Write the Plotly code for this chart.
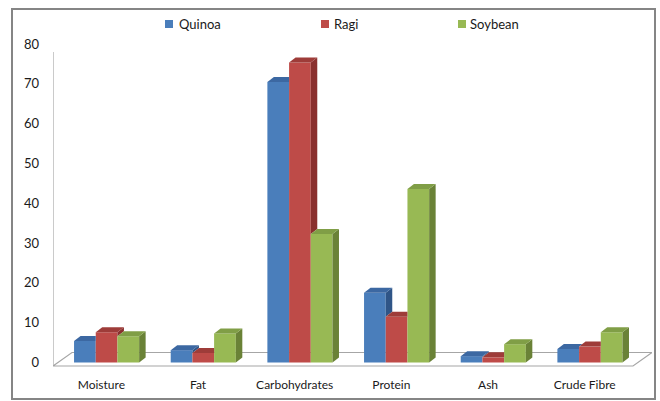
import plotly.graph_objects as go

# ---- data -------------------------------------------------------------
categories = ["Moisture", "Fat", "Carbohydrates", "Protein", "Ash", "Crude Fibre"]
series_names = ["Quinoa", "Ragi", "Soybean"]
quinoa = [5.4, 3.1, 70.5, 17.5, 1.6, 3.4]
ragi = [7.6, 2.4, 75.4, 11.5, 1.3, 4.0]
soybean = [6.6, 7.3, 32.3, 43.6, 4.6, 7.6]
y_ticks = [0, 10, 20, 30, 40, 50, 60, 70, 80]

series_values = [quinoa, ragi, soybean]

# ---- styling / geometry -----------------------------------------------
W, H = 660, 401
PLOT_L, PLOT_R, PLOT_T, PLOT_B = 53, 652, 40, 372
BASE_PX = 362.5          # pixel row of the value 0 on the bar front plane
PX_PER_UNIT = 3.98       # vertical pixels per value unit
PX_PER_CAT = 96.67       # horizontal pixels per category
X_MIN = -0.5
X_MAX = X_MIN + (PLOT_R - PLOT_L) / PX_PER_CAT
Y_MIN = -(PLOT_B - BASE_PX) / PX_PER_UNIT
Y_MAX = (BASE_PX - PLOT_T) / PX_PER_UNIT

BAR_W = 21.7 / PX_PER_CAT
GROUP_LEFT = -27.3 / PX_PER_CAT
DX = 6.5 / PX_PER_CAT     # depth offset of bar sides (x units)
DY = 5.0 / PX_PER_UNIT    # depth offset of bar tops (value units)

FRONT = ["#4a7ebb", "#be4b48", "#98b954"]
TOP = ["#3c68a2", "#9e3c39", "#809e46"]
SIDE = ["#2f5587", "#8a302e", "#6a8237"]
EDGE = "#a6a6a6"
TEXT = "#1a1a1a"
FONT = "Lato"


def yv(py):
    """pixel row -> value on the y axis"""
    return (BASE_PX - py) / PX_PER_UNIT


def px_x(px):
    return (px - PLOT_L) / (PLOT_R - PLOT_L)


def px_y(py):
    return (PLOT_B - py) / (PLOT_B - PLOT_T)


fig = go.Figure()

# front faces of the columns
for k, (name, vals) in enumerate(zip(series_names, series_values)):
    fig.add_trace(go.Bar(
        x=list(range(len(categories))), y=vals, name=name,
        width=BAR_W, offset=GROUP_LEFT + k * BAR_W,
        marker=dict(color=FRONT[k], line=dict(width=0)),
        showlegend=False,
    ))


def poly(xs, ys, color):
    fig.add_trace(go.Scatter(
        x=xs + [xs[0]], y=ys + [ys[0]], mode="lines", fill="toself",
        fillcolor=color, line=dict(width=0, color=color),
        hoverinfo="skip", showlegend=False,
    ))


# visible parts of the top and right faces of each column
for i in range(len(categories)):
    for k in range(3):
        h = series_values[k][i]
        xl = i + GROUP_LEFT + k * BAR_W
        xr = xl + BAR_W
        h_next = series_values[k + 1][i] if k < 2 else 0.0
        # right side, hidden below the neighbouring column
        lo = min(h_next, h)
        if h > lo:
            poly([xr, xr + DX, xr + DX, xr], [lo, lo + DY, h + DY, h], SIDE[k])
        # top face, partly hidden when the neighbour is taller
        if k < 2:
            c = min(max(h_next, h), h + DY)
        else:
            c = h
        xc = xr + DX * (h + DY - c) / DY
        poly([xl, xr, xr, xc, xl + DX], [h, h, c, h + DY, h + DY], TOP[k])

# floor of the 3-D plot area and the value-axis line
floor_front = yv(366)
floor_back = yv(352.5)
floor_shift = 19 / PX_PER_CAT
x_last = X_MIN + 580 / PX_PER_CAT
shapes = [
    dict(type="path", xref="x", yref="y", layer="below",
         path=(f"M {X_MIN},{floor_front} L {x_last},{floor_front} "
               f"L {x_last + floor_shift},{floor_back} "
               f"L {X_MIN + floor_shift},{floor_back} Z"),
         fillcolor="white", line=dict(color=EDGE, width=1.2)),
    dict(type="line", xref="x", yref="y", layer="below",
         x0=X_MIN, x1=X_MIN, y0=floor_front, y1=yv(52),
         line=dict(color=EDGE, width=1.2)),
    # chart frame
    dict(type="rect", xref="paper", yref="paper",
         x0=px_x(12), x1=px_x(655), y0=px_y(399), y1=px_y(9),
         line=dict(color="#858585", width=2), fillcolor="rgba(0,0,0,0)"),
]

# legend across the top
legend_sq = [165, 321, 458]
legend_tx = [177, 332, 468]
annotations = []
for k, name in enumerate(series_names):
    shapes.append(dict(type="rect", xref="paper", yref="paper",
                       x0=px_x(legend_sq[k]), x1=px_x(legend_sq[k] + 8),
                       y0=px_y(28), y1=px_y(20),
                       fillcolor=FRONT[k], line=dict(width=0)))
    annotations.append(dict(x=px_x(legend_tx[k]), y=px_y(24), xref="paper", yref="paper",
                            text=name, showarrow=False, xanchor="left", yanchor="middle",
                            font=dict(family=FONT, size=13, color=TEXT)))

fig.update_layout(
    width=W, height=H,
    margin=dict(l=PLOT_L, r=W - PLOT_R, t=PLOT_T, b=H - PLOT_B),
    paper_bgcolor="white", plot_bgcolor="white",
    barmode="overlay",
    showlegend=False,
    shapes=shapes, annotations=annotations,
    xaxis=dict(range=[X_MIN, X_MAX], tickvals=list(range(len(categories))),
               ticktext=categories, showgrid=False, zeroline=False, showline=False,
               ticks="", ticklabelstandoff=4,
               tickfont=dict(family=FONT, size=12, color=TEXT)),
    yaxis=dict(range=[Y_MIN, Y_MAX], tickvals=y_ticks, showgrid=False,
               zeroline=False, showline=False, ticks="", ticklabelstandoff=13,
               tickfont=dict(family=FONT, size=13, color=TEXT)),
)

fig.write_html("out.html")
